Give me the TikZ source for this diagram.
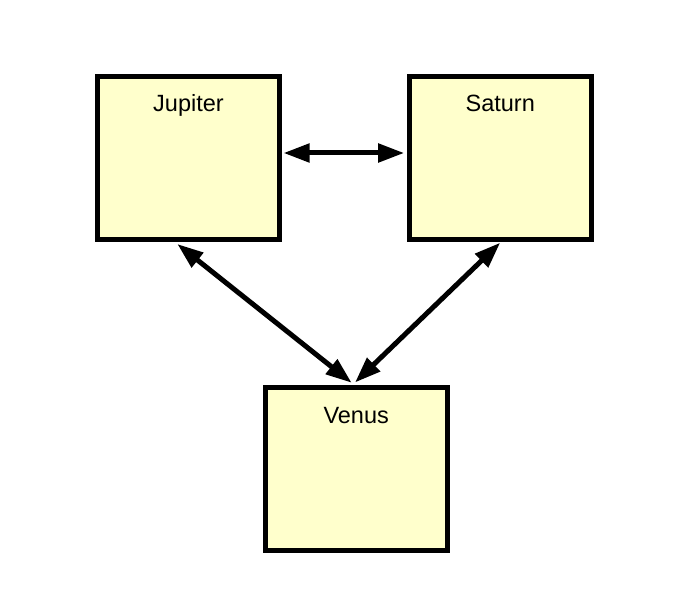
\documentclass[tikz,border=0pt]{standalone}
\usepackage{fontspec}
\setmainfont{Liberation Sans}
\usetikzlibrary{arrows.meta}
\definecolor{boxfill}{RGB}{255,255,204}
\tikzset{
  planet/.style={draw=black, line width=5pt, fill=boxfill, minimum width=182pt, minimum height=163pt, outer sep=0pt, inner sep=0pt},
  title/.style={font=\fontsize{23.5}{26}\selectfont, anchor=base},
  link/.style={line width=5pt, {Triangle[length=26pt,width=18pt]}-{Triangle[length=26pt,width=18pt]}}
}
\begin{document}
\begin{tikzpicture}[x=1pt,y=1pt]
\useasboundingbox (0,0) rectangle (687,603);
\node[planet] (jup) at (188.5,445) {};
\node[planet] (sat) at (500.2,445) {};
\node[planet] (ven) at (356.2,133.7) {};
\node[title] (jupt) at ([yshift=-35.2pt]jup.north) {Jupiter};
\node[title] (satt) at ([yshift=-35.2pt]sat.north) {Saturn};
\node[title] (vent) at ([yshift=-35.2pt]ven.north) {Venus};
\draw[link] ([xshift=4pt,yshift=5pt]jup.east) -- ([xshift=-5pt,yshift=5pt]sat.west);
\draw[link] ([xshift=-11.2pt,yshift=-4.5pt]jup.south) -- ([xshift=-4.5pt,yshift=5pt]ven.north);
\draw[link] ([yshift=-3.2pt]sat.south) -- ([xshift=-1.2pt,yshift=5.3pt]ven.north);
\end{tikzpicture}
\end{document}
